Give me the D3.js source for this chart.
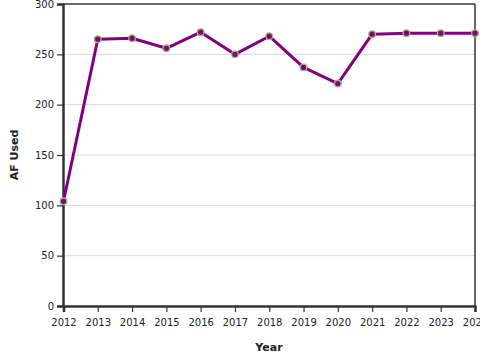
<!DOCTYPE html>
<html><head><meta charset="utf-8">
<script src="https://cdn.jsdelivr.net/npm/d3@7"></script>
<style>body{margin:0;background:#fff}svg{display:block}text{font-family:"DejaVu Sans",sans-serif}</style>
</head><body>
<svg id="c" width="480" height="360"></svg>
<script>
const years = [2012,2013,2014,2015,2016,2017,2018,2019,2020,2021,2022,2023,2024];
const afUsed = [104,265,266,256,272,250,268,237,221,270,271,271,271];
const yTicks = [0,50,100,150,200,250,300];

const svg = d3.select("#c");
const m = {l:63, r:475, t:4, b:306};
const x = d3.scaleLinear().domain([2012,2024]).range([m.l+0.5, m.r]);
const y = d3.scaleLinear().domain([0,300]).range([m.b, m.t]);

// gridlines
svg.append("g").selectAll("line").data(yTicks.filter(d=>d>0 && d<300)).join("line")
  .attr("x1", m.l).attr("x2", m.r).attr("y1", d=>y(d)).attr("y2", d=>y(d))
  .attr("stroke", "#d9d9d9").attr("stroke-width", 1);

// frame top/right
svg.append("line").attr("x1", m.l).attr("x2", m.r).attr("y1", m.t).attr("y2", m.t).attr("stroke","#333").attr("stroke-width",1.5);
svg.append("line").attr("x1", m.r).attr("x2", m.r).attr("y1", m.t).attr("y2", m.b).attr("stroke","#333").attr("stroke-width",1.5);

const xa = svg.append("g").attr("transform", `translate(0,${m.b})`)
  .call(d3.axisBottom(x).tickValues(years).tickFormat(d3.format("d")).tickSizeOuter(0).tickSize(6));
const ya = svg.append("g").attr("transform", `translate(${m.l},0)`)
  .call(d3.axisLeft(y).tickValues(yTicks).tickSizeOuter(0).tickSize(6));
[xa, ya].forEach(a => {
  a.select(".domain").attr("stroke","#333").attr("stroke-width",2.5);
  a.selectAll(".tick line").attr("stroke","#333").attr("stroke-width",1.2);
  a.selectAll("text").attr("fill","#222").style("font-size","10px");
});
xa.selectAll("text").attr("dy","1.1em");

// line
svg.append("path").datum(years.map((d,i)=>[d,afUsed[i]]))
  .attr("fill","none").attr("stroke","#800080").attr("stroke-width",3).attr("stroke-linejoin","round")
  .attr("d", d3.line().x(d=>x(d[0])).y(d=>y(d[1])));

svg.append("g").selectAll("circle").data(years.map((d,i)=>[d,afUsed[i]])).join("circle")
  .attr("cx", d=>x(d[0])).attr("cy", d=>y(d[1])).attr("r", 3.3)
  .attr("fill","#6b1560").attr("stroke","#b5a58c").attr("stroke-width",1.3);

svg.append("text").attr("x", (m.l+m.r)/2).attr("y", 351).attr("text-anchor","middle")
  .style("font-size","11px").style("font-weight","bold").attr("fill","#222").text("Year");
svg.append("text").attr("transform", `translate(18,${(m.t+m.b)/2}) rotate(-90)`).attr("text-anchor","middle")
  .style("font-size","11px").style("font-weight","bold").attr("fill","#222").text("AF Used");
</script>
</body></html>
